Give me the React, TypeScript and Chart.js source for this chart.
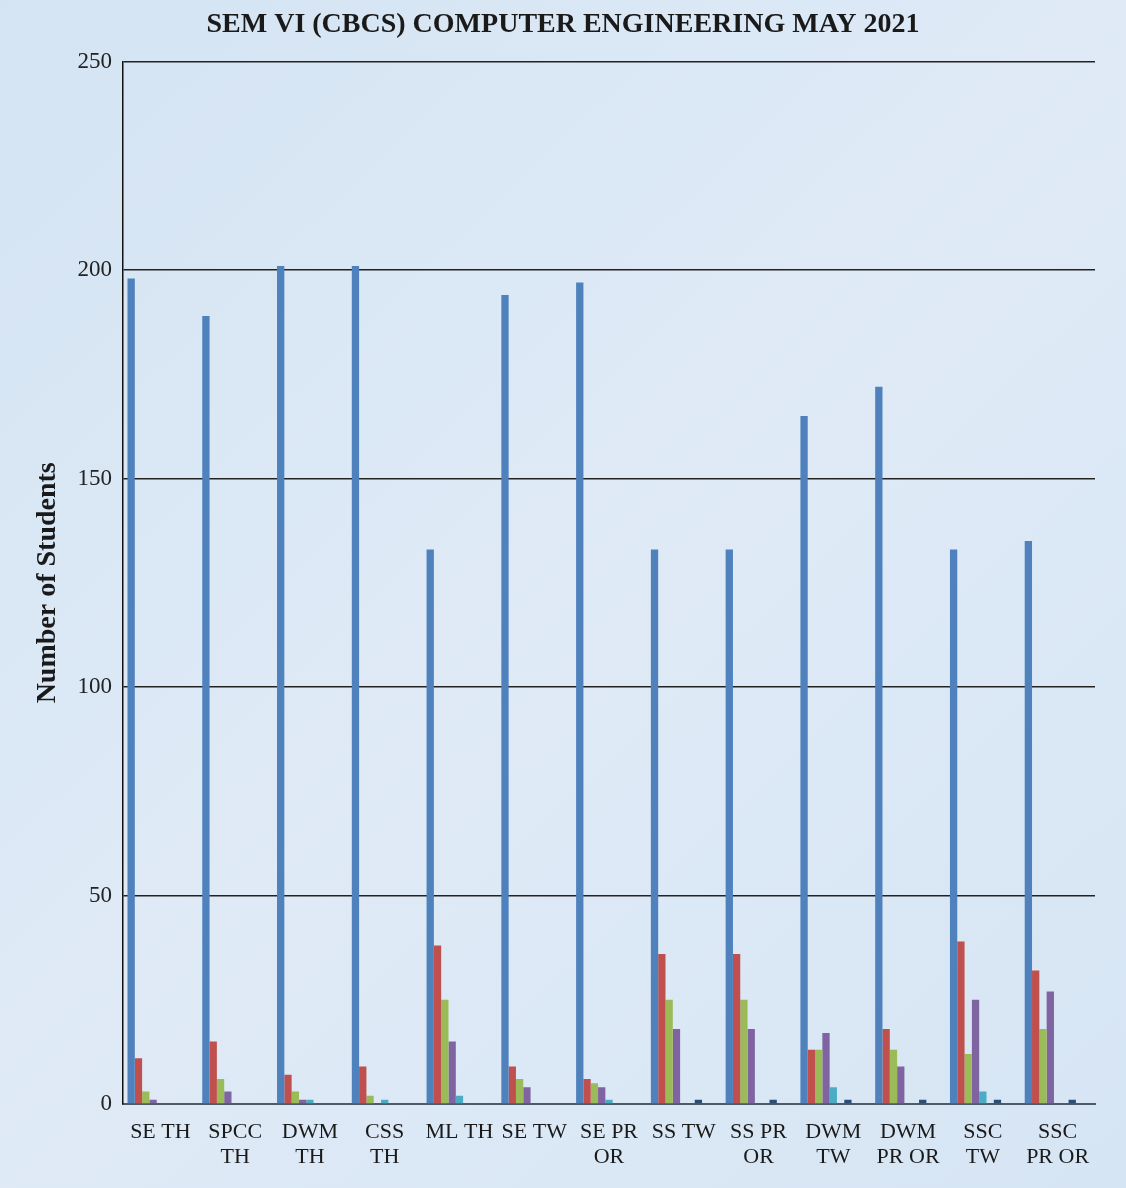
import React, { useEffect, useRef } from "react";
import { Chart, registerables } from "chart.js";

Chart.register(...registerables);

const categories: (string | string[])[] = [
  "SE TH",
  ["SPCC", "TH"],
  ["DWM", "TH"],
  ["CSS", "TH"],
  "ML TH",
  "SE TW",
  ["SE PR", "OR"],
  "SS TW",
  ["SS PR", "OR"],
  ["DWM", "TW"],
  ["DWM", "PR OR"],
  ["SSC", "TW"],
  ["SSC", "PR OR"],
];

const gradeO = [198, 189, 201, 201, 133, 194, 197, 133, 133, 165, 172, 133, 135];
const gradeA = [11, 15, 7, 9, 38, 9, 6, 36, 36, 13, 18, 39, 32];
const gradeB = [3, 6, 3, 2, 25, 6, 5, 25, 25, 13, 13, 12, 18];
const gradeC = [1, 3, 1, 0, 15, 4, 4, 18, 18, 17, 9, 25, 27];
const gradeD = [0, 0, 1, 1, 2, 0, 1, 0, 0, 4, 0, 3, 0];
const gradeE = [0, 0, 0, 0, 0, 0, 0, 0, 0, 0, 0, 0, 0];
const gradeP = [0, 0, 0, 0, 0, 0, 0, 1, 1, 1, 1, 1, 1];
const gradeF = [0, 0, 0, 0, 0, 0, 0, 0, 0, 0, 0, 0, 0];
const absent = [0, 0, 0, 0, 0, 0, 0, 0, 0, 0, 0, 0, 0];

const seriesNames = ["O", "A", "B", "C", "D", "E", "P", "F", "Absent"];
const seriesData = [gradeO, gradeA, gradeB, gradeC, gradeD, gradeE, gradeP, gradeF, absent];
const seriesColors = [
  "#4f81bd",
  "#c0504d",
  "#9bbb59",
  "#8064a2",
  "#4bacc6",
  "#f79646",
  "#2c4d75",
  "#772c2a",
  "#5f7530",
];

const yTicks = [0, 50, 100, 150, 200, 250];

const bgPlugin = {
  id: "bgFill",
  beforeDraw(chart: any) {
    const { ctx, width, height } = chart;
    ctx.save();
    const g = ctx.createLinearGradient(0, 0, width, height);
    g.addColorStop(0, "#d4e4f3");
    g.addColorStop(0.5, "#dfeaf6");
    g.addColorStop(1, "#d6e5f4");
    ctx.fillStyle = g;
    ctx.fillRect(0, 0, width, height);
    ctx.restore();
  },
};

export default function App() {
  const ref = useRef<HTMLCanvasElement>(null);

  useEffect(() => {
    document.body.style.margin = "0";
    const canvas = ref.current;
    if (!canvas) return;
    const serif = "'Liberation Serif', 'Times New Roman', serif";
    const chart = new Chart(canvas, {
      type: "bar",
      data: {
        labels: categories,
        datasets: seriesNames.map((name, i) => ({
          label: name,
          data: seriesData[i],
          backgroundColor: seriesColors[i],
          borderWidth: 0,
          categoryPercentage: 0.88,
          barPercentage: 1.0,
        })),
      },
      options: {
        responsive: false,
        animation: false,
        maintainAspectRatio: false,
        layout: { padding: { left: 31, right: 31, top: 0, bottom: 0 } },
        plugins: {
          legend: { display: false },
          tooltip: { enabled: false },
          title: {
            display: true,
            text: "SEM VI (CBCS) COMPUTER ENGINEERING MAY 2021",
            color: "#1a1a1a",
            font: { family: serif, size: 28, weight: "bold", lineHeight: 1.2 },
            padding: { top: 8, bottom: 20 },
          },
        },
        scales: {
          x: {
            grid: { display: false, drawTicks: false },
            border: { display: true, color: "#4d5a68", width: 2 },
            ticks: {
              color: "#1a1a1a",
              font: { family: serif, size: 22, lineHeight: 1.14 },
              padding: 16,
              maxRotation: 0,
              minRotation: 0,
              autoSkip: false,
            },
            afterFit(scale: any) {
              scale.height = 84;
            },
          },
          y: {
            min: 0,
            max: 250,
            afterBuildTicks(scale: any) {
              scale.ticks = yTicks.map((v) => ({ value: v }));
            },
            grid: { color: "#222", lineWidth: 1.6, drawTicks: false },
            border: { display: true, color: "#111", width: 1.5 },
            ticks: {
              color: "#222",
              font: { family: serif, size: 23 },
              padding: 11,
            },
            title: {
              display: true,
              text: "Number of Students",
              color: "#1a1a1a",
              font: { family: serif, size: 28, weight: "bold", lineHeight: 1.2 },
              padding: { top: 0, bottom: 0 },
            },
            afterFit(scale: any) {
              scale.width = 92;
            },
          },
        },
      },
      plugins: [bgPlugin],
    } as any);
    return () => chart.destroy();
  }, []);

  return (
    <div style={{ width: 1126, height: 1188 }}>
      <canvas ref={ref} width={1126} height={1188} style={{ display: "block" }} />
    </div>
  );
}
